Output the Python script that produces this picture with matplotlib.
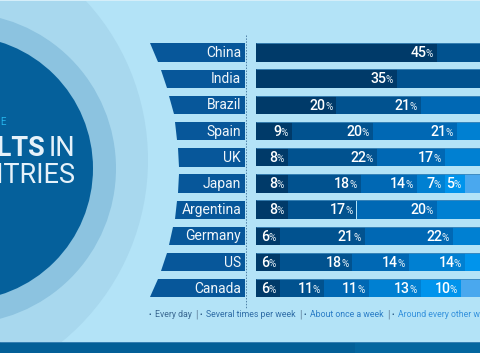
import matplotlib
matplotlib.use("Agg")
import matplotlib.pyplot as plt
from matplotlib.patches import Circle, Polygon, Rectangle
import numpy as np

plt.rcParams['font.family'] = ['Roboto', 'DejaVu Sans']

countries = ["China", "India", "Brazil", "Spain", "UK", "Japan",
             "Argentina", "Germany", "US", "Canada"]
categories = ["Every day", "Several times per week", "About once a week",
              "Around every other week", "About once a month", "Less often"]

# share of adults per frequency (the last columns run off the right edge)
every_day = [45, 35, 20, 9, 8, 8, 8, 6, 6, 6]
several_week = [25, 30, 21, 20, 22, 18, 17, 21, 18, 11]
once_week = [12, 15, 18, 21, 17, 14, 20, 22, 14, 11]
other_week = [8, 10, 15, 15, 14, 7, 13, 15, 14, 13]
once_month = [5, 5, 10, 12, 12, 5, 14, 12, 12, 10]
less_often = [5, 5, 16, 23, 27, 48, 28, 24, 36, 49]
series = [every_day, several_week, once_week, other_week, once_month, less_often]

bar_colors = ['#003a69', '#01528f', '#0068b4', '#0080d2', '#0094ec', '#4aa8ee']
legend_colors = ['#3a6891', '#2f6da6', '#2b7dc6', '#3592dc', '#4aa5e8', '#6bb8ee']

W, H = 480, 353
X0, PX = 256, 4.02          # pixel of 0 %, pixels per %
Y0, PITCH, BAR_H = 52.5, 26.2, 18.4

fig = plt.figure(figsize=(W / 100, H / 100), dpi=100)
fig.patch.set_facecolor('#b3e3f7')

# background layer in pixel units
bg = fig.add_axes([0, 0, 1, 1])
bg.set_xlim(0, W)
bg.set_ylim(H, 0)
bg.axis('off')

bg.add_patch(Circle((-87, 160), 235, color='#a8d8ee', lw=0))
bg.add_patch(Circle((-39.5, 168.4), 155.5, color='#8cc3e0', lw=0))
bg.add_patch(Circle((-39.5, 168.4), 132.5, color='#05609b', lw=0))
bg.add_patch(Rectangle((0, 0), W, 1.3, color='#d5eef9', lw=0))
bg.add_patch(Rectangle((0, 341.5), 355, 12, color='#035f97', lw=0))
bg.add_patch(Rectangle((355, 341.5), W - 355, 12, color='#04669f', lw=0))
bg.plot([0, W], [341.8, 341.8], color='#3f86b8', lw=0.6)

bg.text(0, 125, "E", fontsize=7, color='#25b4ec')
bg.text(46, 156, "ADULTS", fontsize=19.5, fontweight='bold', color='#e6f2fa', ha='right')
bg.text(75.5, 156, "IN", fontsize=19.5, color='#e6f2fa', ha='right')
bg.text(75.5, 182.7, "COUNTRIES", fontsize=19.5, color='#e6f2fa', ha='right')

# banners behind the country names
cx, cy, R = -114, 170, 293
for i in range(len(countries)):
    yt = Y0 + PITCH * i - BAR_H / 2
    yb = yt + BAR_H
    xt = cx + np.sqrt(R ** 2 - (yt - cy) ** 2)
    xb = cx + np.sqrt(R ** 2 - (yb - cy) ** 2)
    bg.add_patch(Polygon([(xt, yt), (245, yt), (245, yb), (xb, yb)],
                         closed=True, color='#07579a', lw=0))

bg.plot([245.5, 245.5], [35, 308], color='#4d7fa6', lw=0.7, dashes=(1.5, 1.5))

# bars
ax = fig.add_axes([0, 0, 1, 1])
ax.patch.set_alpha(0)
ax.axis('off')
ax.set_xlim(-X0 / PX, (W - X0) / PX)
ax.set_ylim((H - Y0) / PITCH, -Y0 / PITCH)

renderer = fig.canvas.get_renderer()
y = np.arange(len(countries))
left = np.zeros(len(countries))
for vals, col in zip(series, bar_colors):
    vals = np.array(vals)
    ax.barh(y, vals, left=left, height=BAR_H / PITCH, color=col, lw=0)
    for i, v in enumerate(vals):
        end = left[i] + v
        pct = ax.annotate('%', xy=(end, i), xytext=(-4, -4.8), textcoords='offset pixels',
                          ha='right', va='baseline', fontsize=7.3, color='#e8f2f8')
        pw = pct.get_window_extent(renderer).width
        ax.annotate(str(v), xy=(end, i), xytext=(-4 - pw + 0.8, -4.8), textcoords='offset pixels',
                    ha='right', va='baseline', fontsize=10.2, fontweight='medium', color='white')
    left += vals

# thin highlight along the top of each bar
ax.hlines(y - BAR_H / PITCH / 2, 0, (W - X0) / PX, color='#3f88bb', lw=0.6)

for i, name in enumerate(countries):
    ax.annotate(name, xy=(0, i), xytext=(-15, -4.5), textcoords='offset pixels',
                ha='right', va='baseline', fontsize=10, color='#f0f6fa')

# legend row
x = 149.3
for k, cat in enumerate(categories):
    bg.text(x, 316.8, "•", fontsize=5.5, color='#1d4f7d', ha='center', va='baseline')
    t = bg.text(x + 5.8, 317, cat, fontsize=6.3, color=legend_colors[k], va='baseline')
    x = x + 5.8 + t.get_window_extent(renderer).width
    if k < len(categories) - 1:
        bg.text(x + 4.3, 317.5, "|", fontsize=7, color='#5f7f99', ha='center', va='baseline')
        x += 8.6

fig.savefig("out.png", dpi=100, facecolor=fig.get_facecolor())
